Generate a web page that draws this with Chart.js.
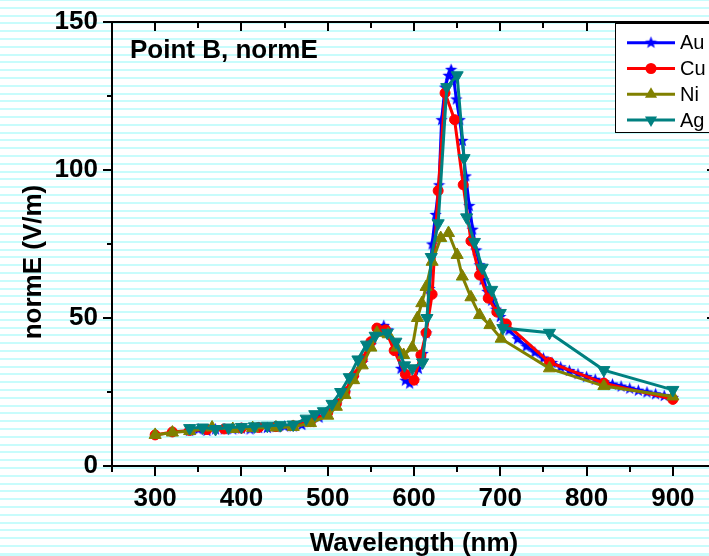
<!DOCTYPE html>
<html>
<head>
<meta charset="utf-8">
<script src="https://cdn.jsdelivr.net/npm/chart.js@4/dist/chart.umd.min.js"></script>
<style>
  html, body { margin: 0; padding: 0; overflow: hidden; width: 709px; height: 556px; }
  body {
    background: repeating-linear-gradient(to bottom, #c8fcfc 0px, #c8fcfc 2px, #ffffff 2px, #ffffff 7.8px);
    background-position: 0 -1px;
  }
  #c { position: absolute; left: 0; top: 0; }
</style>
</head>
<body>
<canvas id="c" width="730" height="556"></canvas>
<script>
/* --------------------------- Données ------------------------------------ */
const xTicks = [300, 400, 500, 600, 700, 800, 900];
const yTicks = [0, 50, 100, 150];

const wlAu = [340, 350, 360, 370, 380, 390, 400, 410, 420, 430, 440, 450, 460, 470, 480, 490, 500, 510, 520, 530,
  540, 550, 560, 565, 570, 580, 585, 590, 595, 600, 605, 610, 614, 618, 621, 625, 629, 632, 636, 640, 643, 646, 649,
  653, 656, 660, 664, 668, 672, 676, 680, 685, 690, 695, 700, 705, 710, 720, 730, 740, 750, 760, 770, 780, 790, 800,
  810, 820, 830, 840, 850, 860, 870, 880, 890, 900];
const normAu = [12, 12.5, 12, 12.5, 12.5, 12.5, 12.8, 12.5, 13, 13, 13.3, 13.5, 13.5, 14, 15, 16.5, 18, 21, 25, 30,
  35, 41, 46, 47.5, 46, 39, 33, 29, 28, 29, 33, 38, 45, 60, 75, 85, 95, 117, 128, 132, 134, 131, 124,
  117, 110, 98, 88, 80, 73, 68, 63, 59, 56, 53, 50.5, 48, 46, 43, 40.5, 38.5, 36.5, 35, 33.5, 32.3, 31.2, 30.2,
  29.3, 28.5, 27.7, 27, 26.3, 25.6, 25, 24.4, 23.8, 23.2];

const wlCu = [300, 320, 340, 360, 380, 400, 420, 440, 460, 480, 500, 510, 520, 530, 540, 550, 557, 567, 577, 590,
  600, 608, 614, 621, 628, 636, 647, 657, 666, 676, 686, 696, 707, 757, 820, 900];
const normCu = [10.5, 11.5, 12, 12.3, 12.5, 12.8, 13, 13.3, 13.6, 15, 18, 21, 25, 30.5, 36, 42, 46.6, 46, 39, 31,
  29, 37.5, 45, 58, 93, 126, 117, 95, 76, 64.5, 56.7, 52, 48, 35, 28, 22.5];

const wlNi = [300, 320, 340, 366, 390, 413, 440, 460, 480, 500, 510, 520, 530, 540, 550, 557, 570, 580, 588, 598,
  604, 609, 614, 621, 631, 640, 650, 656, 666, 676, 688, 701, 757, 820, 900];
const normNi = [10.5, 11.3, 11.8, 13, 12.5, 12.8, 13, 13.2, 14.5, 17, 20, 24, 29, 34, 40, 45, 44.5, 40, 37.5, 40,
  50, 55, 60.5, 69, 77, 78.7, 71.3, 64, 57, 51, 47.6, 43, 33, 27, 23.5];

const wlAg = [340, 355, 370, 385, 400, 415, 430, 445, 460, 475, 485, 495, 505, 515, 525, 535, 545, 555, 569, 579,
  589, 598, 610, 615, 620, 628, 638, 650, 658, 661, 670, 679, 690, 700, 703, 757, 820, 900];
const normAg = [12.8, 13, 12.5, 13, 13.2, 13.4, 13.6, 13.8, 14, 16, 17.5, 18.5, 21, 25, 30, 36, 41, 44, 45, 42,
  34, 33, 35, 50, 70.6, 82, 128, 132, 104, 84, 75.7, 67, 59.5, 51.7, 46.6, 45, 32.4, 25.7];

const seriesNames = ["Au", "Cu", "Ni", "Ag"];
const seriesColors = ["#0000ff", "#ff0000", "#808000", "#008080"];

/* --------------------------- Marqueurs ---------------------------------- */
function starPath(ctx, cx, cy, ro, ri) {
  ctx.beginPath();
  for (let i = 0; i < 10; i++) {
    const r = i % 2 ? ri : ro;
    const a = -Math.PI / 2 + i * Math.PI / 5;
    const px = cx + r * Math.cos(a), py = cy + r * Math.sin(a);
    i ? ctx.lineTo(px, py) : ctx.moveTo(px, py);
  }
  ctx.closePath();
}
function makeStar(color) {
  const c = document.createElement("canvas");
  c.width = 13; c.height = 13;
  const g = c.getContext("2d");
  g.fillStyle = color;
  starPath(g, 6.5, 7, 6.5, 2.7);
  g.fill();
  return c;
}
const starImg = makeStar(seriesColors[0]);

const pts = (xs, ys) => xs.map((x, i) => ({ x, y: ys[i] }));

/* --------------------------- Cadre, titres, légende ---------------------- */
const FONT = '"Liberation Sans", Arial, sans-serif';
const framePlugin = {
  id: "frame",
  afterDraw(chart) {
    const { ctx, chartArea: a, scales: { x, y } } = chart;
    ctx.save();
    ctx.strokeStyle = "#000";
    ctx.lineWidth = 2;
    ctx.beginPath();
    ctx.rect(a.left, a.top, a.right - a.left, a.bottom - a.top);
    ctx.stroke();
    ctx.beginPath();
    for (let v = 250; v <= 950; v += 50) {
      const px = Math.round(x.getPixelForValue(v));
      const major = v % 100 === 0;
      ctx.moveTo(px, a.bottom); ctx.lineTo(px, a.bottom + (major ? 10 : 6));
      ctx.moveTo(px, a.top); ctx.lineTo(px, a.top + (major ? 9 : 6));
    }
    for (let v = 0; v <= 150; v += 25) {
      const py = Math.round(y.getPixelForValue(v));
      const major = v % 50 === 0;
      ctx.moveTo(a.left, py); ctx.lineTo(a.left - (major ? 9 : 5), py);
      ctx.moveTo(a.right, py); ctx.lineTo(a.right - (major ? 9 : 5), py);
    }
    ctx.stroke();

    // titres
    ctx.fillStyle = "#000";
    ctx.font = `bold 26px ${FONT}`;
    ctx.textAlign = "left"; ctx.textBaseline = "alphabetic";
    ctx.fillText("Point B, normE", 130, 58);
    ctx.textAlign = "center";
    ctx.fillText("Wavelength (nm)", 414, 551);
    ctx.save();
    ctx.translate(41, 262);
    ctx.rotate(-Math.PI / 2);
    ctx.fillText("normE (V/m)", 0, 0);
    ctx.restore();

    // légende
    ctx.fillStyle = "#fff";
    ctx.fillRect(615.5, 23.5, 120, 109);
    ctx.lineWidth = 1;
    ctx.strokeRect(615.5, 23.5, 120, 109);
    ctx.font = `20px ${FONT}`;
    ctx.textAlign = "left";
    seriesNames.forEach((name, i) => {
      const ly = 42.7 + i * 25.8;
      const col = seriesColors[i];
      ctx.strokeStyle = col; ctx.fillStyle = col; ctx.lineWidth = 3;
      ctx.beginPath(); ctx.moveTo(627, ly); ctx.lineTo(675, ly); ctx.stroke();
      if (i === 0) {
        ctx.drawImage(starImg, 651 - 6.5, ly - 7);
      } else if (i === 1) {
        ctx.beginPath(); ctx.arc(651, ly, 5.5, 0, Math.PI * 2); ctx.fill();
      } else {
        const s = i === 2 ? 1 : -1, r = 7;
        ctx.beginPath();
        ctx.moveTo(651, ly - s * r);
        ctx.lineTo(651 + r * 0.866, ly + s * r / 2);
        ctx.lineTo(651 - r * 0.866, ly + s * r / 2);
        ctx.closePath(); ctx.fill();
      }
      ctx.fillStyle = "#000";
      ctx.fillText(name, 680, ly + 6.5);
    });
    ctx.restore();
  },
};

/* --------------------------- Graphique ---------------------------------- */
const base = { fill: false, tension: 0, borderWidth: 3, pointBorderWidth: 1 };
const tickFont = { family: FONT, size: 26, weight: "bold" };

new Chart(document.getElementById("c"), {
  type: "line",
  data: {
    datasets: [
      { ...base, label: "Au", data: pts(wlAu, normAu), borderColor: seriesColors[0], backgroundColor: seriesColors[0],
        pointStyle: starImg, pointRadius: 6, order: 4 },
      { ...base, label: "Cu", data: pts(wlCu, normCu), borderColor: seriesColors[1], backgroundColor: seriesColors[1],
        pointStyle: "circle", pointRadius: 5, order: 3 },
      { ...base, label: "Ni", data: pts(wlNi, normNi), borderColor: seriesColors[2], backgroundColor: seriesColors[2],
        pointStyle: "triangle", pointRadius: 7, order: 2 },
      { ...base, label: "Ag", data: pts(wlAg, normAg), borderColor: seriesColors[3], backgroundColor: seriesColors[3],
        pointStyle: "triangle", pointRotation: 180, pointRadius: 7, order: 1 },
    ],
  },
  options: {
    responsive: false,
    animation: false,
    layout: { padding: { left: 0, top: 22, right: 14, bottom: 0 } },
    plugins: { legend: { display: false }, tooltip: { enabled: false } },
    scales: {
      x: {
        type: "linear", min: 250, max: 950,
        afterBuildTicks: (s) => { s.ticks = xTicks.map((v) => ({ value: v })); },
        afterFit: (s) => { s.height = 90; s.paddingLeft = 0; s.paddingRight = 0; },
        ticks: { font: tickFont, color: "#000", padding: 17, maxRotation: 0 },
        grid: { display: false, drawTicks: false, tickLength: 0 },
        border: { display: false },
      },
      y: {
        type: "linear", min: 0, max: 150,
        afterBuildTicks: (s) => { s.ticks = yTicks.map((v) => ({ value: v })); },
        afterFit: (s) => { s.width = 112; s.paddingTop = 0; s.paddingBottom = 0; },
        ticks: { font: tickFont, color: "#000", padding: 14 },
        grid: { display: false, drawTicks: false, tickLength: 0 },
        border: { display: false },
      },
    },
  },
  plugins: [framePlugin],
});
</script>
</body>
</html>
